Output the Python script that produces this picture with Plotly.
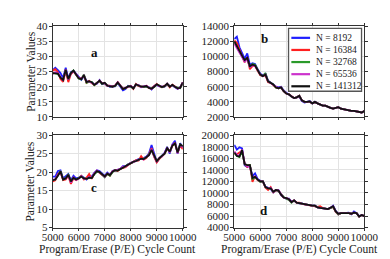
import plotly.graph_objects as go

x = list(range(5000, 10001, 100))
names = ["N = 8192", "N = 16384", "N = 32768", "N = 65536", "N = 141312"]
colors = ["#1f1fff", "#ff2020", "#2a9a2a", "#cc33cc", "#111111"]

a_blue = [25.5,26.3,25.5,24.5,22.8,26.3,22.8,24.8,25.3,24.2,23.0,22.3,23.5,21.8,21.6,21.4,20.8,21.0,22.2,20.8,21.1,20.5,20.0,20.2,20.1,21.2,20.0,18.8,19.2,20.3,20.0,19.6,20.6,20.5,19.8,20.1,20.0,19.8,19.1,20.2,20.6,20.1,20.0,20.0,20.8,20.2,20.4,19.8,19.3,19.8,21.2]
a_red = [25.3,25.8,24.8,22.5,21.6,25.2,21.5,24.2,25.0,23.8,22.9,22.7,23.6,21.3,21.9,21.2,20.5,21.3,21.8,21.2,21.1,20.4,20.3,20.1,20.4,21.5,20.4,19.4,19.5,20.0,20.3,19.3,20.9,20.2,20.1,19.9,20.3,19.5,19.4,20.1,20.9,20.2,19.8,20.3,20.8,19.8,20.7,20.1,19.4,19.7,21.3]
a_green = [24.6,24.4,24.2,23.1,22.3,25.5,22.4,24.6,25.4,23.9,22.6,22.4,24.1,21.3,21.6,21.6,20.5,21.3,21.9,20.9,21.2,20.4,20.1,20.1,20.2,21.3,20.4,19.3,19.5,20.2,20.1,19.5,20.7,20.3,20.1,19.9,20.1,19.7,19.4,19.9,20.7,20.4,19.8,20.1,20.9,20.1,20.5,19.9,19.6,19.5,21.3]
a_magenta = [24.2,24.8,24.5,23.2,22.0,25.8,22.3,24.4,25.1,24.1,22.9,22.6,23.7,21.6,21.7,21.3,20.7,21.1,22.1,21.1,21.2,20.2,20.3,20.0,20.4,21.5,20.2,19.3,19.7,20.0,20.3,19.5,20.7,20.5,19.9,20.1,20.3,19.7,19.2,20.1,20.7,20.2,20.0,20.1,21.0,20.1,20.5,20.0,19.4,19.7,21.5]
a_black = [24.5,24.5,24.3,23.0,22.2,25.6,22.5,24.5,25.3,24.0,22.8,22.5,23.8,21.5,21.8,21.5,20.6,21.2,22.0,21.0,21.3,20.3,20.2,20.0,20.3,21.4,20.3,19.2,19.6,20.1,20.2,19.4,20.8,20.4,20.0,20.0,20.2,19.6,19.3,20.0,20.8,20.3,19.9,20.2,21.0,20.0,20.6,20.0,19.5,19.6,21.4]

b_blue = [12300,12600,11200,10400,9700,10400,8900,9100,9000,8300,7700,7500,7700,6800,6600,6300,6000,5900,6000,5500,5200,5000,4800,4500,4600,4700,4100,3900,4000,4100,3800,4000,3800,3600,3500,3500,3300,3200,3100,3200,3300,3100,3000,3000,2900,2800,2800,2700,2600,2600,2800]
b_red = [12100,11800,10900,10000,9200,9900,8300,8700,8800,8100,7500,7400,7500,6600,6500,6200,5900,5800,5900,5400,5100,5000,4700,4500,4600,4800,4200,4000,4000,4000,3800,3950,3800,3600,3500,3500,3300,3200,3100,3200,3300,3100,3000,3000,2900,2800,2800,2700,2600,2600,2800]
b_green = [11900,11200,10600,10000,9400,9700,8600,9000,8900,8200,7600,7400,7800,6700,6500,6300,5900,5800,5900,5400,5100,5000,4700,4500,4600,4800,4200,4000,4000,4050,3800,4000,3800,3600,3500,3500,3300,3200,3100,3200,3300,3100,3000,3000,2900,2800,2800,2700,2600,2600,2800]
b_magenta = [11700,11100,10600,10000,9300,9600,8600,8800,8700,8200,7600,7400,7600,6700,6500,6300,6000,5800,5900,5400,5100,5000,4700,4500,4600,4800,4200,4000,4000,4050,3800,4000,3800,3600,3500,3500,3300,3200,3100,3200,3300,3100,3000,3000,2900,2800,2800,2700,2600,2600,2800]
b_black = [12000,11300,10700,10100,9500,9800,8700,8900,8800,8200,7600,7400,7600,6700,6500,6300,5900,5800,5900,5400,5100,5000,4700,4500,4600,4800,4200,4000,4000,4050,3800,4000,3800,3600,3500,3500,3300,3200,3100,3200,3300,3100,3000,3000,2900,2800,2800,2700,2600,2600,2800]

c_blue = [18.8,18.8,20.3,20.5,18.3,18.8,19.5,17.8,19.0,18.3,18.5,19.0,18.6,18.0,18.8,18.8,19.8,20.5,20.3,19.6,19.0,19.9,19.2,20.3,20.6,20.6,20.9,21.6,21.6,22.1,22.5,22.9,23.2,23.5,23.7,23.8,24.2,25.0,27.3,24.6,22.7,23.7,24.5,25.2,26.8,25.0,27.5,28.5,25.0,27.8,26.6]
c_red = [17.5,17.8,19.5,20.0,17.8,18.0,19.0,16.8,18.3,17.8,18.3,19.0,18.0,18.5,19.5,18.2,19.6,20.4,19.8,19.2,18.9,19.5,19.0,20.2,20.6,20.3,20.9,21.2,21.3,21.9,22.3,22.6,23.2,23.1,24.3,23.4,23.8,24.8,26.5,24.1,22.6,23.6,24.4,25.0,26.3,25.6,27.0,28.0,25.2,27.2,26.2]
c_green = [17.8,18.0,19.1,20.3,18.0,18.4,19.3,17.6,18.4,18.0,18.4,18.8,18.3,18.1,18.4,18.4,19.4,20.1,20.0,19.2,18.6,19.5,19.0,20.0,20.5,20.5,20.8,21.3,21.6,22.1,22.4,22.8,23.1,23.3,23.6,23.6,24.0,24.7,26.0,24.3,23.0,23.8,24.3,25.0,26.4,25.5,27.2,27.8,25.4,27.5,27.0]
c_magenta = [17.9,18.1,19.2,20.0,18.1,18.2,19.2,17.2,18.6,17.9,18.2,18.9,18.2,18.2,18.6,18.5,19.6,20.4,20.0,19.4,18.7,19.6,19.3,20.2,20.4,20.6,20.9,21.5,21.5,22.0,22.5,22.7,23.0,23.4,23.6,23.4,24.1,24.5,26.3,24.2,22.9,23.9,24.2,25.1,26.6,25.3,27.4,27.9,25.1,27.4,26.8]
c_black = [17.8,18.0,19.0,20.2,18.0,18.3,19.3,17.5,18.5,18.0,18.3,18.8,18.3,18.2,18.5,18.4,19.5,20.3,20.0,19.3,18.8,19.6,19.2,20.1,20.5,20.4,20.8,21.4,21.6,22.0,22.4,22.8,23.0,23.3,23.6,23.5,24.0,24.6,26.0,24.3,23.0,23.8,24.3,25.0,26.5,25.5,27.2,27.8,25.3,27.5,27.0]

d_blue = [18300,17500,17900,17700,14800,14500,14700,12900,13400,12400,12100,12000,11100,10900,10700,10100,10500,10500,9600,9200,9000,9000,8500,8700,8300,8200,8200,8000,7900,7900,7800,7800,7500,7400,7400,7300,7200,7400,7800,6900,6300,6500,6500,6600,6600,6300,6800,6500,6000,6200,6000]
d_red = [16800,16700,17000,17300,15000,14500,14900,11900,12900,12200,12000,12000,10900,10500,11000,10100,10500,10400,9700,9200,9100,8900,8400,8700,8300,8300,8100,8000,7900,7900,7800,7700,7600,7700,7400,7300,7200,7400,7600,6700,6300,6500,6500,6600,6500,6400,6600,6500,5900,6200,6000]
d_green = [17000,16400,16200,17200,15000,14700,14800,12400,12700,12300,11900,12000,11000,10800,10800,10200,10500,10300,9700,9300,9000,8800,8300,8700,8300,8200,8200,8000,7900,7900,7800,7800,7500,7400,7400,7300,7200,7400,7600,6800,6300,6500,6500,6600,6500,6400,6600,6500,5900,6200,6000]
d_magenta = [17200,16600,16400,17500,15100,14600,14600,12700,12800,12300,12000,12000,11000,10800,10900,10200,10500,10400,9800,9200,9100,8900,8400,8700,8300,8200,8200,8000,7900,7900,7800,7800,7500,7400,7400,7300,7200,7400,7700,6800,6400,6500,6500,6600,6500,6400,6600,6500,5900,6200,6000]
d_black = [17000,16400,16300,17400,15000,14800,14800,12600,12800,12300,12000,12000,11000,10800,10800,10200,10500,10400,9700,9200,9100,8900,8400,8700,8300,8200,8200,8000,7900,7900,7800,7800,7500,7400,7400,7300,7200,7400,7700,6800,6400,6500,6500,6600,6500,6400,6600,6500,5900,6200,6000]

panels = {
    "a": [a_blue, a_red, a_green, a_magenta, a_black],
    "b": [b_blue, b_red, b_green, b_magenta, b_black],
    "c": [c_blue, c_red, c_green, c_magenta, c_black],
    "d": [d_blue, d_red, d_green, d_magenta, d_black],
}
y_ranges = {"a": [10, 40], "b": [2000, 14000], "c": [5, 30], "d": [4000, 20000]}
y_dtick = {"a": 5, "b": 2000, "c": 5, "d": 2000}
label_pos = {"a": (6600, 31.3), "b": (6150, 12400), "c": (6600, 15.8), "d": (6150, 6950)}

W, H = 390, 259
xdom = {"L": [36 / W, 175 / W], "R": [230 / W, 369 / W]}
ydom = {"T": [1 - 108 / H, 1 - 12.7 / H], "B": [1 - 224 / H, 1 - 127 / H]}
layout_map = {"a": ("L", "T", 1), "b": ("R", "T", 2), "c": ("L", "B", 3), "d": ("R", "B", 4)}

font_family = "Liberation Serif, Times New Roman, serif"
fig = go.Figure()
layout = dict(
    width=W, height=H, margin=dict(l=0, r=0, t=0, b=0),
    paper_bgcolor="white", plot_bgcolor="white",
    font=dict(family=font_family, size=11, color="#222"),
    showlegend=False,
)
annotations = []
shapes = []
for key, (cx, ry, n) in layout_map.items():
    xa = "xaxis" if n == 1 else f"xaxis{n}"
    ya = "yaxis" if n == 1 else f"yaxis{n}"
    xr = "x" if n == 1 else f"x{n}"
    yr = "y" if n == 1 else f"y{n}"
    for i, series in enumerate(panels[key]):
        fig.add_trace(go.Scatter(
            x=x, y=series, mode="lines", name=names[i], xaxis=xr, yaxis=yr,
            line=dict(color=colors[i], width=1.8),
        ))
    bottom = ry == "B"
    layout[xa] = dict(domain=xdom[cx], anchor=yr, range=[5000, 10000], dtick=1000,
                      tickformat="d", tickangle=0, ticklabelstandoff=-3,
                      showgrid=True, gridcolor="#e3e3e3", gridwidth=1,
                      showline=True, linecolor="#333", linewidth=1, mirror="ticks",
                      ticks="outside", ticklen=2, tickcolor="#333",
                      showticklabels=bottom, zeroline=False,
                      tickfont=dict(size=11, family=font_family, color="#222"))
    layout[ya] = dict(domain=ydom[ry], anchor=xr, range=y_ranges[key], dtick=y_dtick[key],
                      tickformat="d", ticklabelstandoff=-1,
                      showgrid=True, gridcolor="#e3e3e3", gridwidth=1,
                      showline=True, linecolor="#333", linewidth=1, mirror="ticks",
                      ticks="outside", ticklen=3, tickcolor="#333", zeroline=False,
                      tickfont=dict(size=11, family=font_family, color="#222"))
    lx, ly = label_pos[key]
    annotations.append(dict(x=lx, y=ly, xref=xr, yref=yr, text=f"<b>{key}</b>",
                            xanchor="center", yanchor="middle",
                            showarrow=False, font=dict(size=13, family=font_family, color="#111")))

# legend box (panel b), drawn in paper coordinates
lg_left, lg_right, lg_top, lg_bot = 288, 366, 15, 81
shapes.append(dict(type="rect", xref="paper", yref="paper",
                   x0=lg_left / W, x1=lg_right / W, y0=1 - lg_bot / H, y1=1 - lg_top / H,
                   line=dict(color="#555", width=1.3), fillcolor="white", layer="above"))
for i, nm in enumerate(names):
    yc = 25 + i * 12.7
    shapes.append(dict(type="line", xref="paper", yref="paper",
                       x0=291 / W, x1=311 / W, y0=1 - yc / H, y1=1 - yc / H,
                       line=dict(color=colors[i], width=2.2), layer="above"))
    annotations.append(dict(x=315 / W, y=1 - yc / H, xref="paper", yref="paper",
                            xanchor="left", yanchor="middle", text=nm, showarrow=False,
                            font=dict(size=9.5, family=font_family, color="#222")))

for yc in [(12.7 + 108) / 2, (127 + 224) / 2]:
    annotations.append(dict(x=12 / W, y=1 - yc / H, xref="paper", yref="paper",
                            xanchor="center", yanchor="middle",
                            text="Parameter Values", textangle=-90, showarrow=False,
                            font=dict(size=11.5, family=font_family, color="#222")))
for cx in ["L", "R"]:
    annotations.append(dict(x=(xdom[cx][0] + xdom[cx][1]) / 2, y=1 - 247 / H,
                            xref="paper", yref="paper",
                            xanchor="center", yanchor="middle",
                            text="Program/Erase (P/E) Cycle Count", showarrow=False,
                            font=dict(size=11.5, family=font_family, color="#222")))
layout["annotations"] = annotations
layout["shapes"] = shapes
fig.update_layout(**layout)
fig.write_html("out.html")
